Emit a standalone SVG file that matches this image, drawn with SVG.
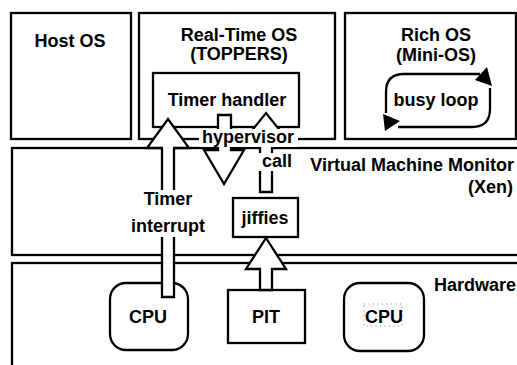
<svg xmlns="http://www.w3.org/2000/svg" width="517" height="365" viewBox="0 0 517 365">
<style>
.box{fill:#fff;stroke:#000;stroke-width:2.3}
.ln{fill:none;stroke:#000;stroke-width:2.3}
.arr{fill:#fff;stroke:#000;stroke-width:2.3;stroke-linejoin:miter}
.t{font-family:"Liberation Sans",Arial,sans-serif;font-weight:bold;font-size:18px;fill:#000}
.c{text-anchor:middle}
.r{text-anchor:end}
.bg{fill:#fff}
</style>
<rect width="517" height="365" fill="#fff"/>
<g id="host-os">
<rect class="box" x="11" y="13" width="120" height="126"/>
<text class="t c" x="70" y="47">Host OS</text>
</g>
<g id="rt-os">
<rect class="box" x="139" y="13" width="196" height="126"/>
<text class="t c" x="239" y="41">Real-Time OS</text>
<text class="t c" x="239" y="60">(TOPPERS)</text>
</g>
<g id="rich-os">
<rect class="box" x="345" y="13" width="171" height="126"/>
<text class="t c" x="436" y="41">Rich OS</text>
<text class="t c" x="436" y="61">(Mini-OS)</text>
</g>
<g id="vmm">
<rect class="box" x="12" y="148" width="520" height="107"/>
<text class="t r" x="514" y="171">Virtual Machine Monitor</text>
<text class="t r" x="513" y="193">(Xen)</text>
</g>
<g id="hardware">
<rect class="box" x="12" y="263" width="520" height="120"/>
<text class="t r" x="516" y="291">Hardware</text>
</g>
<g id="timer-handler">
<rect class="box" x="153" y="73" width="146" height="54"/>
<text class="t c" x="227" y="106">Timer handler</text>
</g>
<g id="busy-loop">
<path class="ln" d="M480,74 H404 Q386,74 386,92 V113"/>
<path class="ln" d="M398,127 H472 Q490,127 490,109 V88"/>
<polygon points="487,67 475,80 492,86" fill="#000"/>
<polygon points="385,131 400,121 383,114" fill="#000"/>
<text class="t c" x="436" y="106">busy loop</text>
</g>
<g id="jiffies">
<rect class="box" x="233" y="198" width="65" height="39"/>
<text class="t c" x="265" y="224">jiffies</text>
</g>
<g id="pit">
<rect class="box" x="228" y="290" width="77" height="53"/>
<text class="t c" x="266" y="323">PIT</text>
</g>
<g id="cpu1">
<rect class="box" x="110" y="283" width="78" height="67" rx="16"/>
</g>
<g id="cpu2">
<rect class="box" x="344" y="283" width="80" height="68" rx="16"/>
<rect x="364" y="304" width="38" height="22" fill="none" stroke="#888" stroke-width="1" stroke-dasharray="1 3.5"/>
<text class="t c" x="384" y="323">CPU</text>
</g>
<g id="connectors">
<polygon class="arr" points="162,297 162,148 147,148 168,119 189,148 174,148 174,297"/>
<polygon class="arr" points="218,115 231,115 231,150 244,150 224,184 204,150 218,150"/>
<polygon class="arr" points="260,192 260,133 250,133 266,113 282,133 272,133 272,192"/>
<polygon class="arr" points="260,290 260,269 246,269 266,238 286,269 272,269 272,290"/>
</g>
<g id="labels">
<rect class="bg" x="130" y="190" width="77" height="47"/>
<text class="t c" x="168" y="205">Timer</text>
<text class="t c" x="168" y="232">interrupt</text>
<rect class="bg" x="199" y="129" width="99" height="18"/>
<text class="t c" x="248" y="143">hypervisor</text>
<rect class="bg" x="258" y="153" width="36" height="18"/>
<text class="t c" x="277" y="167">call</text>
<text class="t c" x="148" y="323">CPU</text>
</g>
</svg>
